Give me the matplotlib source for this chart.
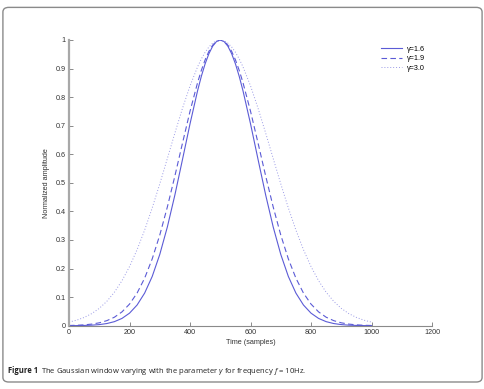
import matplotlib.pyplot as plt
from matplotlib.patches import FancyBboxPatch

offsets = [0, 12.5, 25, 37.5, 50, 62.5, 75, 100, 125, 150, 175, 200, 225, 250, 275, 300, 325, 350, 375,
           400, 425, 450, 475, 500]

# window values at those offsets (centre first)
half_16 = [1.0, 0.9946, 0.9785, 0.9523, 0.9169, 0.8732, 0.8226, 0.7066, 0.5813, 0.4578, 0.3453, 0.2494,
           0.1724, 0.1142, 0.0724, 0.0439, 0.0255, 0.0142, 0.0076, 0.0039, 0.0019, 0.0009, 0.0004, 0.0002]
half_19 = [1.0, 0.9955, 0.9822, 0.9605, 0.9308, 0.8940, 0.8509, 0.7505, 0.6386, 0.5243, 0.4153, 0.3173,
           0.2339, 0.1664, 0.1142, 0.0756, 0.0483, 0.0297, 0.0177, 0.0101, 0.0056, 0.0030, 0.0015, 0.0008]
half_30 = [1.0, 0.9973, 0.9891, 0.9757, 0.9572, 0.9339, 0.9062, 0.8394, 0.7607, 0.6744, 0.5850, 0.4964,
           0.4122, 0.3348, 0.2661, 0.2069, 0.1574, 0.1171, 0.0853, 0.0607, 0.0423, 0.0289, 0.0193, 0.0126]

centre = 500
samples = [centre - d for d in offsets[::-1]] + [centre + d for d in offsets[1:]]
win_16 = half_16[::-1] + half_16[1:]
win_19 = half_19[::-1] + half_19[1:]
win_30 = half_30[::-1] + half_30[1:]

labels = ["\u03b3=1.6", "\u03b3=1.9", "\u03b3=3.0"]
x_ticks = [0, 200, 400, 600, 800, 1000, 1200]
y_ticks = [0, 0.1, 0.2, 0.3, 0.4, 0.5, 0.6, 0.7, 0.8, 0.9, 1]

plt.rcParams["font.family"] = ["Liberation Sans", "DejaVu Sans"]
plt.rcParams["mathtext.fontset"] = "custom"
plt.rcParams["mathtext.rm"] = "Open Sans"
plt.rcParams["mathtext.it"] = "Open Sans:italic"

fig = plt.figure(figsize=(4.85, 3.89), dpi=100)

# rounded frame around the figure
frame = FancyBboxPatch((0.006, 0.018), 0.988, 0.963, boxstyle="round,pad=0,rounding_size=0.012",
                       transform=fig.transFigure, fill=False, edgecolor="#8a8a8a", linewidth=1.0)
fig.patches.append(frame)

ax = fig.add_axes([0.1423, 0.1627, 0.7485, 0.7345])
line_col = "#5b5bd6"
ax.plot(samples, win_16, color=line_col, linestyle="-", linewidth=0.8, label=labels[0])
ax.plot(samples, win_19, color=line_col, linestyle=(0, (5, 3)), linewidth=0.8, label=labels[1])
ax.plot(samples, win_30, color="#9a9ae6", linestyle=(0, (1, 2)), linewidth=0.7, label=labels[2])

ax.set_xlim(0, 1200)
ax.set_ylim(0, 1)
ax.set_xticks(x_ticks)
ax.set_yticks(y_ticks)
ax.set_yticklabels(["0", "0.1", "0.2", "0.3", "0.4", "0.5", "0.6", "0.7", "0.8", "0.9", "1"])
ax.spines["top"].set_visible(False)
ax.spines["right"].set_visible(False)
ax.spines["left"].set_color("#a8a8a8")
ax.spines["left"].set_linewidth(1.6)
ax.spines["bottom"].set_color("#8a8a8a")
ax.spines["bottom"].set_linewidth(0.8)
ax.tick_params(direction="in", length=3, width=0.6, colors="#777777", labelcolor="#333333",
               labelsize=5.2, pad=2.5)

ax.set_xlabel("Time (samples)", fontsize=5.2, color="#333333", labelpad=2)
ax.set_ylabel("Normalized amplitude", fontsize=5.2, color="#333333", labelpad=4)

ax.legend(loc="upper right", bbox_to_anchor=(0.99, 0.99), frameon=False, fontsize=5.2,
          handlelength=2.9, handletextpad=0.7, labelspacing=0.35, borderaxespad=0)

fig.text(0.017, 0.041, "Figure 1", fontsize=5.5, fontweight="bold", color="#222222", family="Open Sans")
fig.text(0.084, 0.041, "The Gaussian window varying with the parameter $\\mathit{\\gamma}$ for frequency $f$ = 10Hz.",
         fontsize=5.5, color="#222222", family="Open Sans")

fig.savefig("out.png", dpi=100)
